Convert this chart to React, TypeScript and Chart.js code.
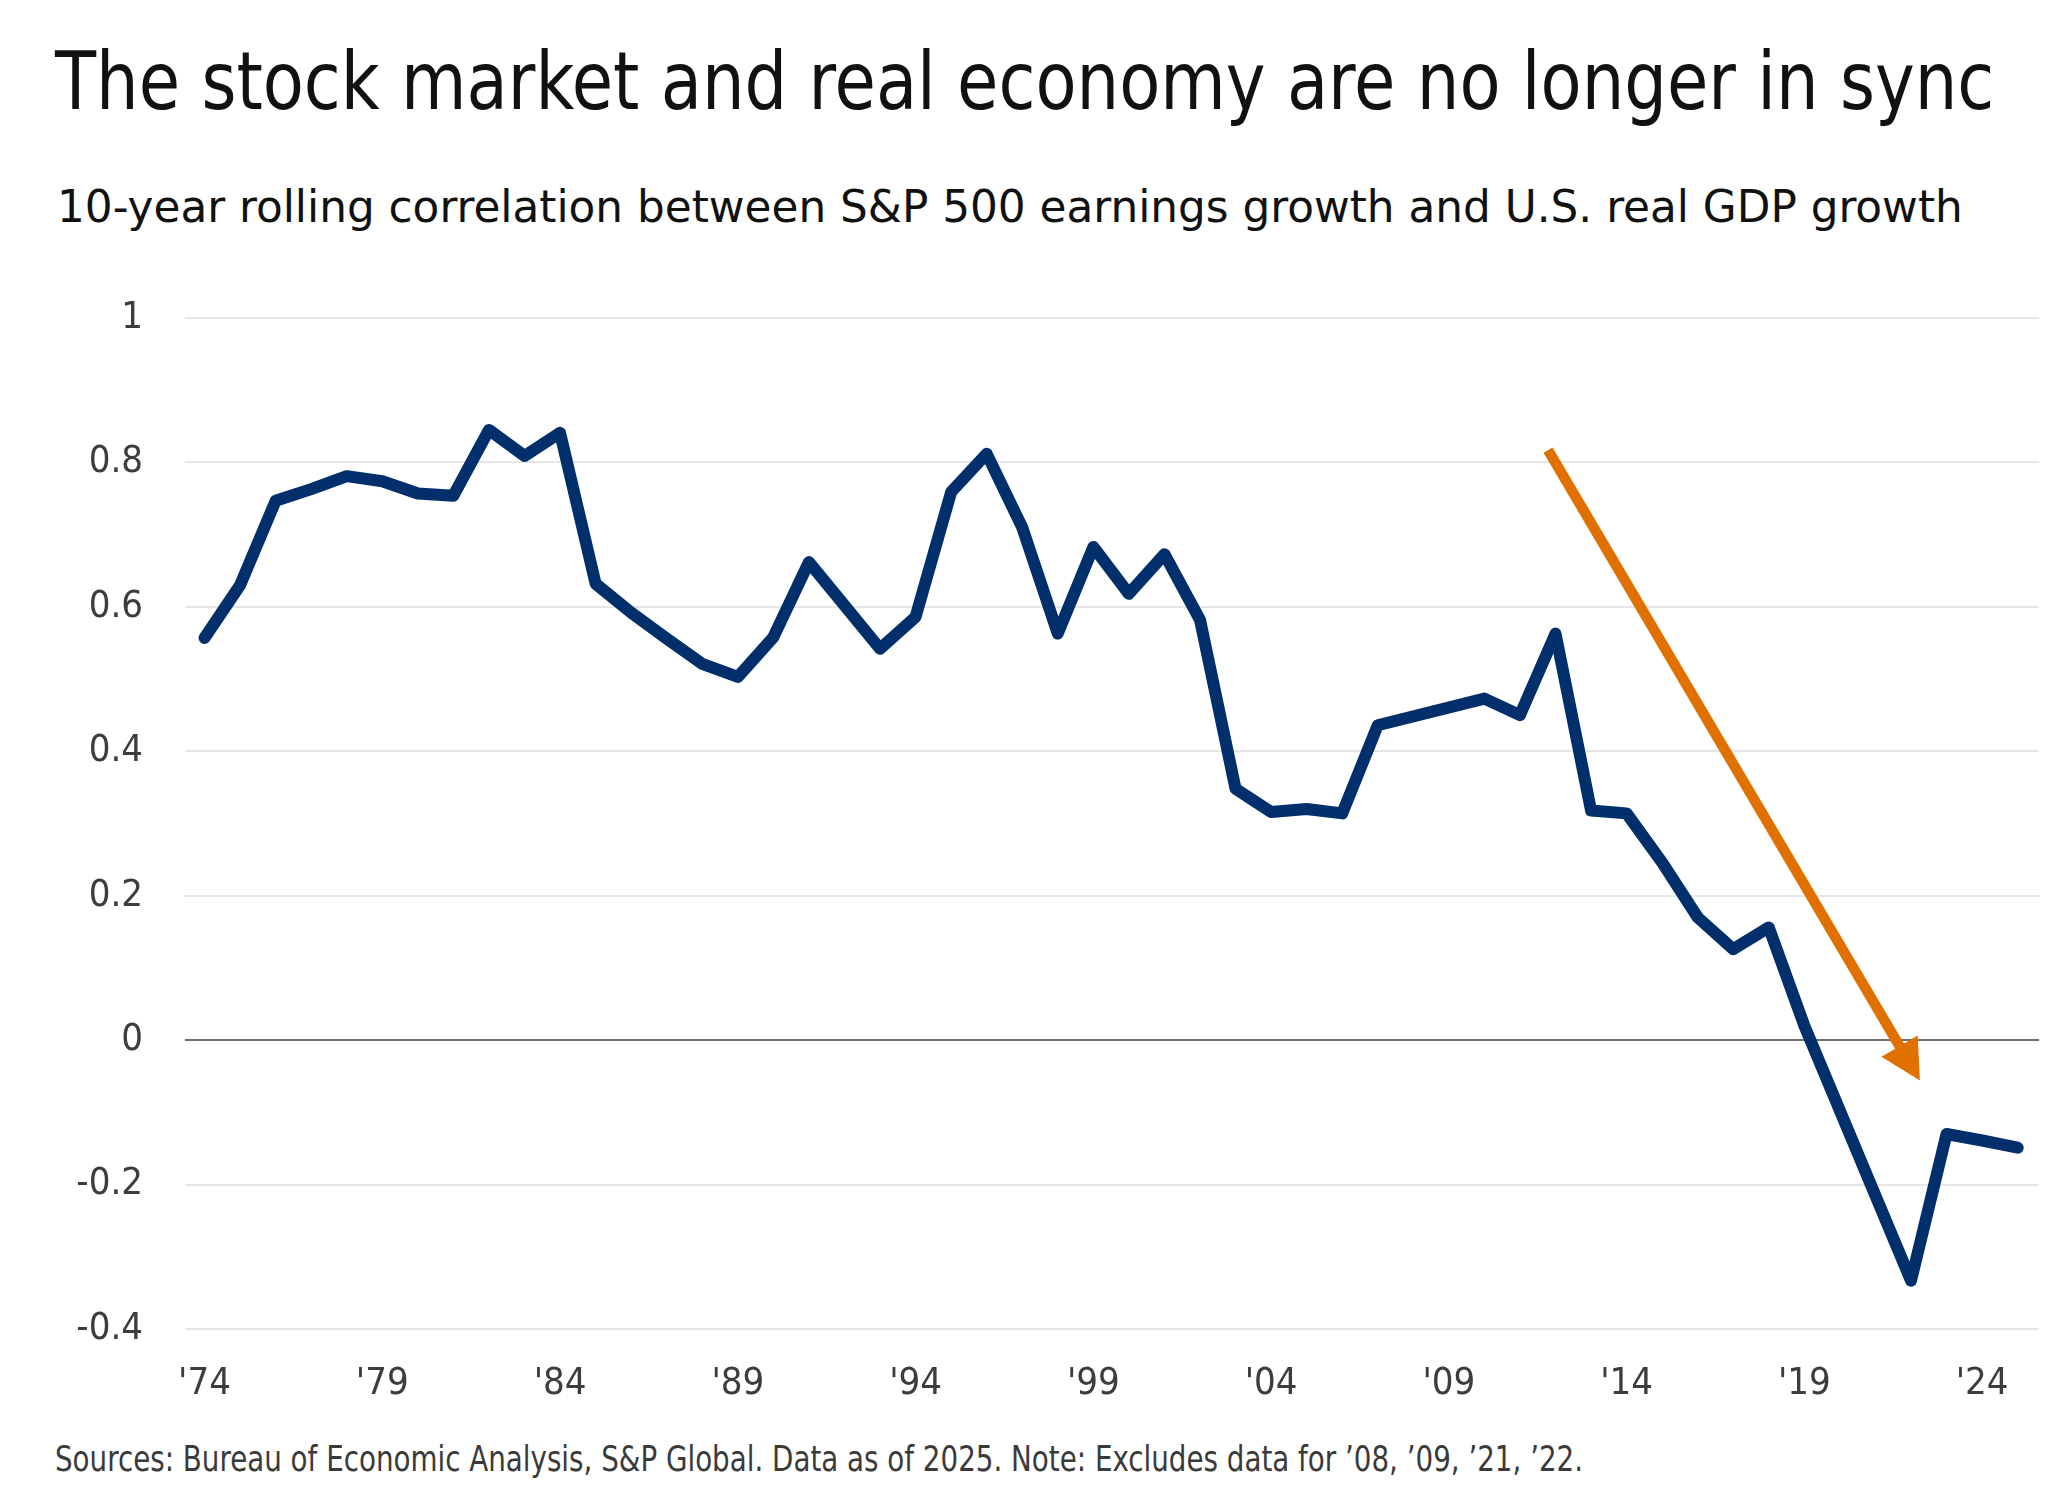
import React, { useEffect, useLayoutEffect, useRef } from "react";
import { Chart, registerables } from "chart.js";

Chart.register(...registerables);

// ---- data ----
const years: number[] = [
  1974, 1975, 1976, 1977, 1978, 1979, 1980, 1981, 1982, 1983,
  1984, 1985, 1986, 1987, 1988, 1989, 1990, 1991, 1992, 1993,
  1994, 1995, 1996, 1997, 1998, 1999, 2000, 2001, 2002, 2003,
  2004, 2005, 2006, 2007, 2008, 2009, 2010, 2011, 2012, 2013,
  2014, 2015, 2016, 2017, 2018, 2019, 2020, 2021, 2022, 2023,
  2024, 2025,
];
const correlation: (number | null)[] = [
  0.557, 0.630, 0.747, 0.763, 0.781, 0.774, 0.757, 0.754, 0.845, 0.809,
  0.841, 0.632, 0.592, 0.556, 0.521, 0.503, 0.558, 0.662, 0.602, 0.542,
  0.586, 0.759, 0.812, 0.710, 0.563, 0.683, 0.618, 0.673, 0.582, 0.348,
  0.316, 0.320, 0.314, 0.436, null, null, 0.473, 0.450, 0.563, 0.318,
  0.314, 0.246, 0.170, 0.126, 0.156, 0.020, null, null, -0.333, -0.130,
  -0.139, -0.149,
];
const xTickYears: number[] = [1974, 1979, 1984, 1989, 1994, 1999, 2004, 2009, 2014, 2019, 2024];
const arrowStart: [number, number] = [2011.79, 0.817];
const arrowEnd: [number, number] = [2022.25, -0.056];

const titleText = "The stock market and real economy are no longer in sync";
const subtitleText = "10-year rolling correlation between S&P 500 earnings growth and U.S. real GDP growth";
const footerText = "Sources: Bureau of Economic Analysis, S&P Global. Data as of 2025. Note: Excludes data for \u201908, \u201909, \u201921, \u201922.";

const FONT = '"DejaVu Sans Condensed", "DejaVu Sans", sans-serif';
const NAVY = "#002F6C";
const ORANGE = "#E07000";

const arrowPlugin = {
  id: "trendArrow",
  afterDatasetsDraw(chart: any) {
    const xs = chart.scales.x;
    const ys = chart.scales.y;
    const x1 = xs.getPixelForValue(arrowStart[0]);
    const y1 = ys.getPixelForValue(arrowStart[1]);
    const x2 = xs.getPixelForValue(arrowEnd[0]);
    const y2 = ys.getPixelForValue(arrowEnd[1]);
    const ang = Math.atan2(y2 - y1, x2 - x1);
    const headLen = 40;
    const headHalf = 21;
    const bx = x2 - headLen * Math.cos(ang);
    const by = y2 - headLen * Math.sin(ang);
    const ctx = chart.ctx;
    ctx.save();
    ctx.strokeStyle = ORANGE;
    ctx.fillStyle = ORANGE;
    ctx.lineWidth = 10.5;
    ctx.lineCap = "butt";
    ctx.beginPath();
    ctx.moveTo(x1, y1);
    ctx.lineTo(bx + 2 * Math.cos(ang), by + 2 * Math.sin(ang));
    ctx.stroke();
    ctx.beginPath();
    ctx.moveTo(x2, y2);
    ctx.lineTo(bx + headHalf * Math.sin(ang), by - headHalf * Math.cos(ang));
    ctx.lineTo(bx - headHalf * Math.sin(ang), by + headHalf * Math.cos(ang));
    ctx.closePath();
    ctx.fill();
    ctx.restore();
  },
};

function FitText(props: { text: string; width: number; left: number; top: number; size: number; color: string }) {
  const ref = useRef<HTMLSpanElement>(null);
  useLayoutEffect(() => {
    const el = ref.current;
    if (!el) return;
    el.style.transform = "none";
    const w = el.offsetWidth;
    if (w > 0) el.style.transform = `scaleX(${props.width / w})`;
  });
  return (
    <span
      ref={ref}
      style={{
        position: "absolute",
        left: props.left,
        top: props.top,
        fontFamily: FONT,
        fontSize: props.size,
        lineHeight: 1,
        color: props.color,
        whiteSpace: "nowrap",
        display: "inline-block",
        transformOrigin: "0 0",
      }}
    >
      {props.text}
    </span>
  );
}

export default function App() {
  const canvasRef = useRef<HTMLCanvasElement>(null);

  useEffect(() => {
    if (!canvasRef.current) return;
    const points = years.map((y, i) => ({ x: y, y: correlation[i] }));
    const chart = new Chart(canvasRef.current, {
      type: "line",
      data: {
        datasets: [
          {
            data: points as any,
            borderColor: NAVY,
            borderWidth: 12,
            borderCapStyle: "round",
            borderJoinStyle: "round",
            pointRadius: 0,
            tension: 0,
            spanGaps: true,
            fill: false,
          },
        ],
      },
      options: {
        animation: false,
        responsive: false,
        maintainAspectRatio: false,
        devicePixelRatio: 1,
        layout: { padding: { top: 68, right: 30, left: 0, bottom: 0 } },
        plugins: { legend: { display: false }, tooltip: { enabled: false }, title: { display: false } },
        scales: {
          x: {
            type: "linear",
            min: 1973.45,
            max: 2025.6,
            grid: { display: false, drawTicks: false },
            border: { display: false },
            afterBuildTicks: (scale: any) => {
              scale.ticks = xTickYears.map((v) => ({ value: v }));
            },
            afterFit: (scale: any) => {
              scale.height = 101;
            },
            ticks: {
              autoSkip: false,
              maxRotation: 0,
              padding: 32,
              color: "#3d3d3d",
              font: { family: FONT, size: 38 },
              callback: (v: any) => "'" + String(v).slice(2),
            },
          },
          y: {
            min: -0.4,
            max: 1,
            grid: {
              drawTicks: false,
              lineWidth: 2,
              color: (c: any) => (Math.abs(c.tick?.value ?? 1) < 1e-9 ? "#6e6e6e" : "#e6e6e6"),
            },
            border: { display: false },
            afterFit: (scale: any) => {
              scale.width = 185;
            },
            ticks: {
              stepSize: 0.2,
              padding: 42,
              color: "#3d3d3d",
              font: { family: FONT, size: 38 },
              callback: (v: any) => String(Math.round(Number(v) * 10) / 10),
            },
          },
        },
      },
      plugins: [arrowPlugin],
    });
    return () => chart.destroy();
  }, []);

  return (
    <div style={{ position: "absolute", left: 0, top: 0, width: 2069, height: 1504, background: "#fff", overflow: "hidden" }}>
      <FitText text={titleText} left={55} top={42} size={80} width={1939} color="#111111" />
      <FitText text={subtitleText} left={57} top={184} size={45} width={1906} color="#111111" />
      <canvas
        ref={canvasRef}
        width={2069}
        height={1180}
        style={{ position: "absolute", left: 0, top: 250, width: 2069, height: 1180 }}
      />
      <FitText text={footerText} left={55} top={1441} size={36} width={1528} color="#3a3a3a" />
    </div>
  );
}
